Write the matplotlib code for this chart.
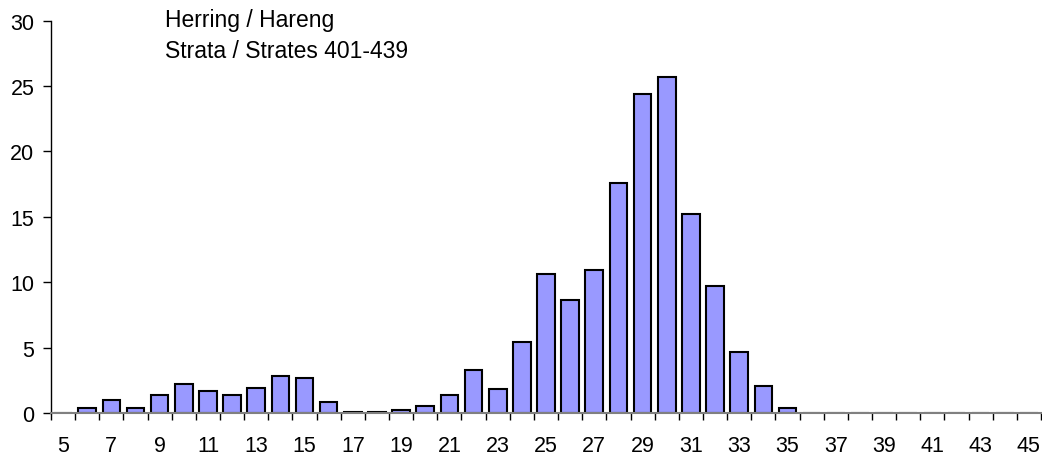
import matplotlib
matplotlib.use("Agg")
import matplotlib.pyplot as plt
import numpy as np

plt.rcParams['font.family'] = ['Liberation Sans', 'DejaVu Sans']

# longueurs 5..45, pourcentages
longueurs = list(range(5, 46))
valeurs = [0.0, 0.4, 1.0, 0.4, 1.35, 2.2, 1.65, 1.35, 1.95, 2.85, 2.7,
           0.85, 0.1, 0.1, 0.25, 0.55, 1.35, 3.3, 1.8, 5.45, 10.6,
           8.65, 10.9, 17.6, 24.4, 25.7, 15.2, 9.7, 4.7, 2.1, 0.4,
           0, 0, 0, 0, 0, 0, 0, 0, 0, 0]

fig = plt.figure(figsize=(10.42, 4.56), dpi=100)
ax = fig.add_axes([51/1042, 42/456, 990/1042, 392.3/456])

pos = np.arange(len(longueurs))
ax.bar(pos, valeurs, width=0.73, color='#9999FF', edgecolor='black', linewidth=1.5)

ax.set_xlim(-0.5, len(longueurs) - 0.5)
ax.set_ylim(0, 30)
ax.set_yticks(range(0, 31, 5))

ax.set_xticks(pos[::2])
ax.set_xticklabels([str(l) for l in longueurs[::2]])
ax.set_xticks(np.arange(-0.5, len(longueurs), 1), minor=True)
ax.tick_params(axis='x', which='major', length=0, pad=15.5, labelsize=15.5)
ax.tick_params(axis='x', which='minor', length=5, width=1, color='black')
ax.tick_params(axis='y', length=6, width=1, pad=6, labelsize=15.5)

for s in ['top', 'right']:
    ax.spines[s].set_visible(False)
ax.spines['bottom'].set_color('#808080')
ax.spines['bottom'].set_linewidth(1.5)
ax.spines['left'].set_linewidth(1)

fig.text(165/1042, 1 - 21/456, 'Herring / Hareng', fontsize=16.5, va='center', ha='left')
fig.text(165/1042, 1 - 51/456, 'Strata / Strates 401-439', fontsize=16.5, va='center', ha='left')

fig.savefig('out.png', dpi=100)
